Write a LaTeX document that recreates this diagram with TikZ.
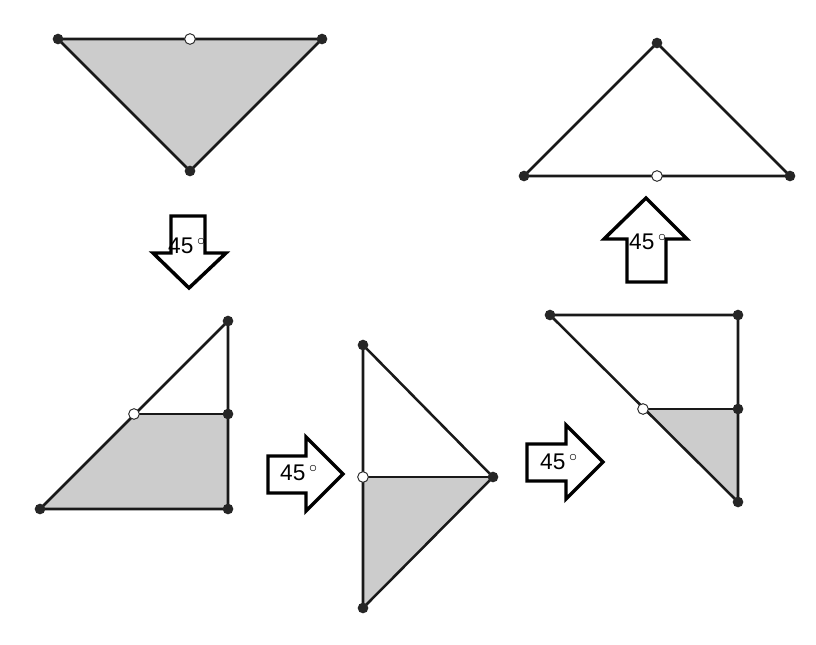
\documentclass[tikz,border=0pt]{standalone}
\usepackage{fontspec}
\setsansfont{Liberation Sans}
\begin{document}
\begin{tikzpicture}[x=0.75pt,y=-0.75pt,
  edge/.style={line width=1.9pt, black!90, line join=round},
  shade/.style={fill=black!20},
  dot/.style={circle, fill=black!85, inner sep=0pt, minimum size=8pt},
  odot/.style={circle, draw=black!85, fill=white, line width=0.7pt, inner sep=0pt, minimum size=8pt},
  bigarrow/.style={draw=black, line width=2.6pt, fill=white, line join=miter},
  lbl/.style={font=\sffamily\fontsize{17}{18}\selectfont, inner sep=0pt}]
\useasboundingbox (0,0) rectangle (816,644);

% ---------- shape 1 (top left) ----------
\coordinate (a1) at (58,39);
\coordinate (a2) at (322,39);
\coordinate (a3) at (190,171);
\coordinate (am) at (190,39);
\fill[shade] (a1) -- (a2) -- (a3) -- cycle;
\draw[edge] (a1) -- (a2) -- (a3) -- cycle;
\node[dot] (A1) at (a1) {};
\node[dot] (A2) at (a2) {};
\node[dot] (A3) at (a3) {};
\node[odot] (AM) at (am) {};

% ---------- down arrow ----------
\draw[bigarrow] (171,216) -- (205,216) -- (205,253) -- (226,253) -- (189,288) -- (153,253) -- (171,253) -- cycle;
\node[lbl] (t1) at (187,246) {45\,$^{\circ}$};

% ---------- shape 2 (bottom left) ----------
\coordinate (b1) at (40,509);
\coordinate (b2) at (228,509);
\coordinate (b3) at (228,414);
\coordinate (b4) at (228,321);
\coordinate (bm) at (134,414);
\fill[shade] (b1) -- (b2) -- (b3) -- (bm) -- cycle;
\draw[edge] (b1) -- (b2) -- (b4) -- cycle;
\draw[edge] (bm) -- (b3);
\node[dot] (B1) at (b1) {};
\node[dot] (B2) at (b2) {};
\node[dot] (B3) at (b3) {};
\node[dot] (B4) at (b4) {};
\node[odot] (BM) at (bm) {};

% ---------- right arrow 1 ----------
\draw[bigarrow] (268,456) -- (306,456) -- (306,437) -- (343,474) -- (306,511) -- (306,493) -- (268,493) -- cycle;
\node[lbl] (t2) at (299,473) {45\,$^{\circ}$};

% ---------- shape 3 (middle) ----------
\coordinate (c1) at (363,345);
\coordinate (c2) at (493,477);
\coordinate (c3) at (363,608);
\coordinate (cm) at (363,477);
\fill[shade] (cm) -- (c2) -- (c3) -- cycle;
\draw[edge] (c1) -- (c2) -- (c3) -- cycle;
\draw[edge] (cm) -- (c2);
\node[dot] (C1) at (c1) {};
\node[dot] (C2) at (c2) {};
\node[dot] (C3) at (c3) {};
\node[odot] (CM) at (cm) {};

% ---------- right arrow 2 ----------
\draw[bigarrow] (527,444) -- (566,444) -- (566,425) -- (603,462) -- (566,499) -- (566,481) -- (527,481) -- cycle;
\node[lbl] (t3) at (559,462) {45\,$^{\circ}$};

% ---------- shape 4 (bottom right) ----------
\coordinate (d1) at (550,315);
\coordinate (d2) at (738,315);
\coordinate (d3) at (738,409);
\coordinate (d4) at (738,502);
\coordinate (dm) at (643,409);
\fill[shade] (dm) -- (d3) -- (d4) -- cycle;
\draw[edge] (d1) -- (d2) -- (d4) -- cycle;
\draw[edge] (dm) -- (d3);
\node[dot] (D1) at (d1) {};
\node[dot] (D2) at (d2) {};
\node[dot] (D3) at (d3) {};
\node[dot] (D4) at (d4) {};
\node[odot] (DM) at (dm) {};

% ---------- up arrow ----------
\draw[bigarrow] (627,282) -- (666,282) -- (666,239) -- (687,239) -- (646,198) -- (604,239) -- (627,239) -- cycle;
\node[lbl] (t4) at (648,242) {45\,$^{\circ}$};

% ---------- shape 5 (top right) ----------
\coordinate (e1) at (524,176);
\coordinate (e2) at (790,176);
\coordinate (e3) at (657,43);
\coordinate (em) at (657,176);
\draw[edge] (e1) -- (e2) -- (e3) -- cycle;
\node[dot] (E1) at (e1) {};
\node[dot] (E2) at (e2) {};
\node[dot] (E3) at (e3) {};
\node[odot] (EM) at (em) {};
\end{tikzpicture}
\end{document}
